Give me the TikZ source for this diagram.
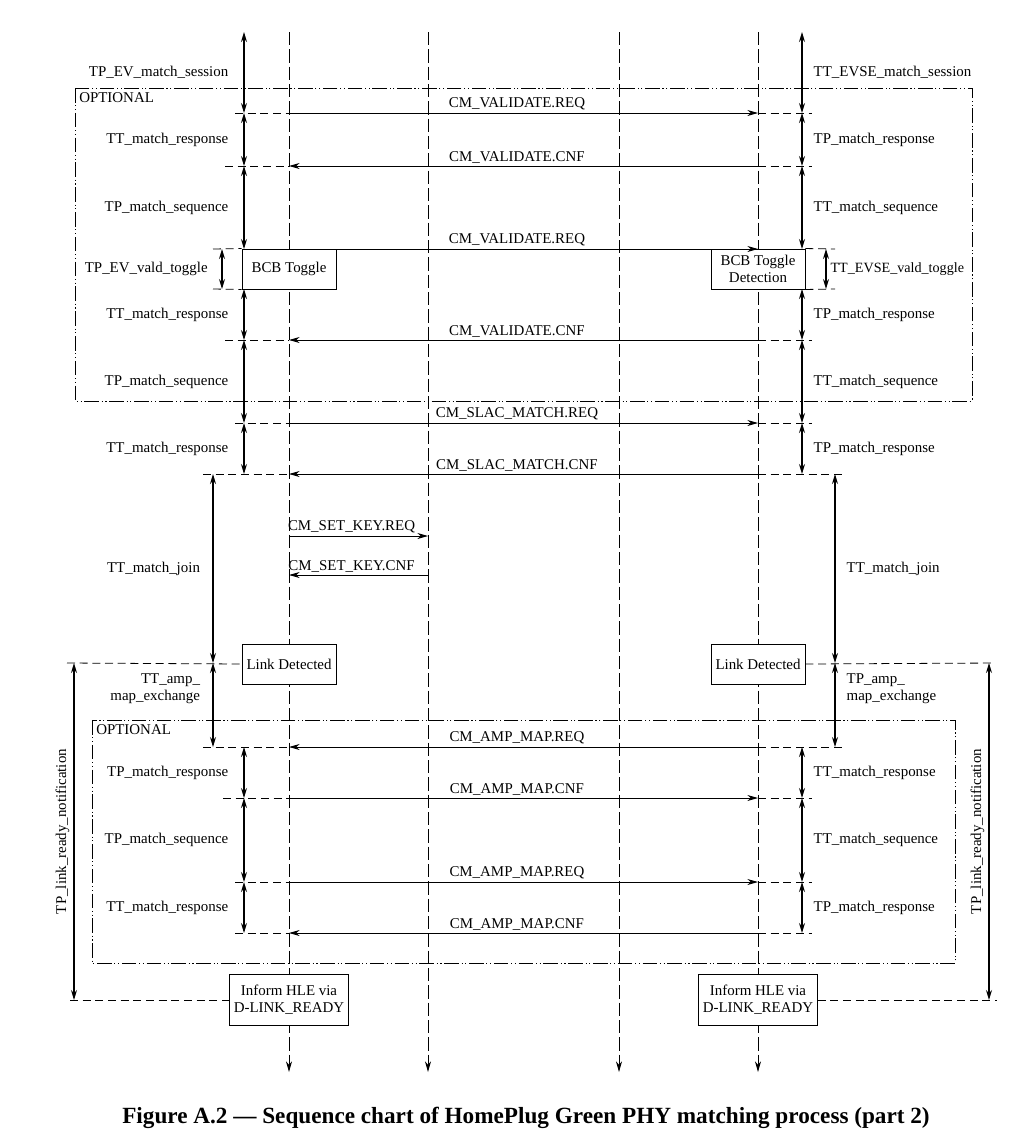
\documentclass[tikz,border=0pt]{standalone}
\usepackage{fontspec}
\setmainfont{Liberation Serif}
\usepackage{tikz}
\usetikzlibrary{calc,arrows.meta}

\tikzset{
  lifeline/.style={line width=0.6pt, dash pattern=on 10pt off 3pt,
    -{Stealth[length=8pt,width=4.5pt]}},
  extline/.style={line width=0.6pt, dash pattern=on 6pt off 3.5pt},
  optline/.style={line width=0.6pt,
    dash pattern=on 11pt off 2pt on 0.8pt off 2pt on 0.8pt off 2pt},
  toSE/.style={line width=0.6pt, -{Stealth[length=8pt,width=4.5pt]}},
  toEV/.style={line width=0.6pt, {Stealth[length=8pt,width=4.5pt]}-},
  timer/.style={line width=0.9pt,
    {Stealth[length=7.5pt,width=4.5pt]}-{Stealth[length=7.5pt,width=4.5pt]}},
  msglabel/.style={pos=0.486, above, inner sep=2pt},
  statebox/.style={draw, fill=white, line width=0.7pt, align=center,
    minimum width=70.5pt, minimum height=30pt, inner sep=1pt},
}

\begin{document}
\begin{tikzpicture}[x=0.75pt,y=-0.75pt,font=\fontsize{11.2pt}{12.5pt}\selectfont]
  \useasboundingbox (0,0) rectangle (1033,1140);

  %% Levels of the chart: lifeline points, timer points, dash ends
  \foreach \n/\y/\l/\r in {t/32/0/0, a/113/235/812, b/166/225/812,
    c/249/213/835, d/289/213/835, e/340/225/812, f/423/235/812,
    g/474/203/843, h/663/67/995, i/747/203/843, j/798/223/812,
    k/882/235/812, l/933/235/812, m/1000/70/997}
  {
    \coordinate (EV\n) at (289,\y);
    \coordinate (SE\n) at (758,\y);
    \coordinate (LT\n) at (244,\y);
    \coordinate (RT\n) at (802,\y);
    \coordinate (XL\n) at (\l,\y);
    \coordinate (XR\n) at (\r,\y);
  }

  %% Lifelines
  \foreach \x/\n in {289/A,428/B,619/C,758/D}
  {
    \coordinate (\n0) at (\x,32);
    \coordinate (\n1) at (\x,1072);
    \draw[lifeline] (\n0) -- (\n1);
  }

  %% Optional frames
  \draw[optline] (75,88) coordinate (OP1) rectangle (972,401);
  \node[anchor=north west, inner sep=3pt] (OPT1) at (OP1) {OPTIONAL};
  \draw[optline] (92,720) coordinate (OP2) rectangle (955,963);
  \node[anchor=north west, inner sep=3pt] (OPT2) at (OP2) {OPTIONAL};

  %% State boxes
  \node[statebox] (BCB1) at (289,269) {BCB Toggle};
  \node[statebox] (BCB2) at (758,269) {BCB Toggle\\Detection};
  \node[statebox] (LD1) at (289,664) {Link Detected};
  \node[statebox] (LD2) at (758,664) {Link Detected};
  \node[statebox, minimum width=89pt, minimum height=38pt] (HLE1) at (289,1000)
    {Inform HLE via\\D-LINK\_READY};
  \node[statebox, minimum width=89pt, minimum height=38pt] (HLE2) at (758,1000)
    {Inform HLE via\\D-LINK\_READY};

  %% Dashed level marks
  \foreach \n in {a,b,e,f,g,i,j,k,l}
  {
    \draw[extline] (XL\n) -- (EV\n);
    \draw[extline] (SE\n) -- (XR\n);
  }
  \draw[extline] (XLc) -- (BCB1.north west);
  \draw[extline] (XLd) -- (BCB1.south west);
  \draw[extline] (BCB2.north east) -- (XRc);
  \draw[extline] (BCB2.south east) -- (XRd);
  \draw[extline] (XLh) -- (LD1.west);
  \draw[extline] (LD2.east) -- (XRh);
  \draw[extline] (XLm) -- (HLE1.west);
  \draw[extline] (HLE2.east) -- (XRm);

  %% Messages between EV and EVSE
  \foreach \n/\d/\txt in {a/toSE/CM\_VALIDATE.REQ, b/toEV/CM\_VALIDATE.CNF,
    c/toSE/CM\_VALIDATE.REQ, e/toEV/CM\_VALIDATE.CNF,
    f/toSE/CM\_SLAC\_MATCH.REQ, g/toEV/CM\_SLAC\_MATCH.CNF,
    i/toEV/CM\_AMP\_MAP.REQ, j/toSE/CM\_AMP\_MAP.CNF,
    k/toSE/CM\_AMP\_MAP.REQ, l/toEV/CM\_AMP\_MAP.CNF}
  {
    \draw[\d] (EV\n) -- node[msglabel] (M\n) {\txt} (SE\n);
  }

  %% Key setting on the EV side
  \coordinate (SK1) at (289,536);
  \coordinate (SK2) at (428,536);
  \coordinate (SC1) at (289,575);
  \coordinate (SC2) at (428,575);
  \draw[toSE] (SK1) -- node[msglabel, pos=0.45] (MSK) {CM\_SET\_KEY.REQ} (SK2);
  \draw[toEV] (SC1) -- node[msglabel, pos=0.45] (MSC) {CM\_SET\_KEY.CNF} (SC2);

  %% Timers, EV side
  \foreach \a/\b/\txt in {t/a/TP\_EV\_match\_session, a/b/TT\_match\_response,
    b/c/TP\_match\_sequence, d/e/TT\_match\_response,
    e/f/TP\_match\_sequence, f/g/TT\_match\_response,
    i/j/TP\_match\_response, j/k/TP\_match\_sequence,
    k/l/TT\_match\_response}
  {
    \draw[timer] (LT\a) -- node[left=8pt] (TL\a) {\txt} (LT\b);
  }

  %% Timers, EVSE side
  \foreach \a/\b/\txt in {t/a/TT\_EVSE\_match\_session, a/b/TP\_match\_response,
    b/c/TT\_match\_sequence, d/e/TP\_match\_response,
    e/f/TT\_match\_sequence, f/g/TP\_match\_response,
    i/j/TT\_match\_response, j/k/TT\_match\_sequence,
    k/l/TP\_match\_response}
  {
    \draw[timer] (RT\a) -- node[right=5pt] (TR\a) {\txt} (RT\b);
  }

  %% Toggle, join, amp map and link ready timers
  \coordinate (VL1) at (222,249);  \coordinate (VL2) at (222,289);
  \coordinate (VR1) at (826,249);  \coordinate (VR2) at (826,289);
  \coordinate (JL1) at (213,474);  \coordinate (JL2) at (213,663);
  \coordinate (JR1) at (835,474);  \coordinate (JR2) at (835,663);
  \coordinate (AL2) at (213,747);  \coordinate (AR2) at (835,747);
  \coordinate (RL1) at (74,663);   \coordinate (RL2) at (74,1000);
  \coordinate (RR1) at (989,663);  \coordinate (RR2) at (989,1000);

  \draw[timer] (VL1) -- node[left=7pt] (TVL) {TP\_EV\_vald\_toggle} (VL2);
  \draw[timer] (VR1) -- node[right=1pt, inner sep=2pt,
    font=\fontsize{10.6pt}{12pt}\selectfont] (TVR) {TT\_EVSE\_vald\_toggle} (VR2);
  \draw[timer] (JL1) -- node[left=6pt] (TJL) {TT\_match\_join} (JL2);
  \draw[timer] (JR1) -- node[right=5pt] (TJR) {TT\_match\_join} (JR2);
  \draw[timer] (JL2) -- node[left=6pt, pos=0.31, align=right] (TAL)
    {TT\_amp\_\\map\_exchange} (AL2);
  \draw[timer] (JR2) -- node[right=5pt, pos=0.31, align=left] (TAR)
    {TP\_amp\_\\map\_exchange} (AR2);
  \draw[timer] (RL1) -- node[rotate=90, anchor=south, inner sep=3pt] (TRL)
    {TP\_link\_ready\_notification} (RL2);
  \draw[timer] (RR1) -- node[rotate=90, anchor=south, inner sep=3pt] (TRR)
    {TP\_link\_ready\_notification} (RR2);

  %% Caption
  \node[font=\fontsize{17.4pt}{19pt}\selectfont\bfseries] (CAP) at (526,1118)
    {Figure A.2 — Sequence chart of HomePlug Green PHY matching process (part 2)};
\end{tikzpicture}
\end{document}
